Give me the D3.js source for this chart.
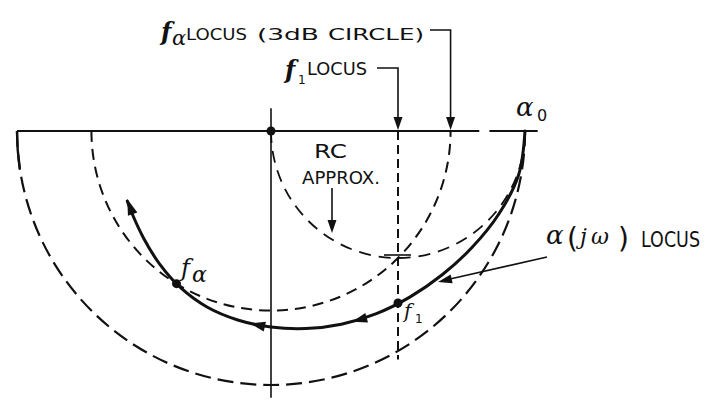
<!DOCTYPE html>
<html><head><meta charset="utf-8">
<script src="https://cdn.jsdelivr.net/npm/d3@7"></script>
<style>
html,body{margin:0;padding:0;background:#fff;}
svg{display:block;}
.lab{font-family:'DejaVu Sans','Liberation Sans',sans-serif;fill:#111;}
.it{font-family:'DejaVu Serif','Liberation Serif',serif;font-style:italic;fill:#111;}
</style></head>
<body>
<script>
// ---- data (units of alpha0) ----
const locusRe = [1.00, 0.975, 0.897, 0.792, 0.674, 0.548, 0.415, 0.277, 0.137, 0.000, -0.131, -0.252, -0.356, -0.439, -0.502, -0.550, -0.566];
const locusIm = [0.00, -0.172, -0.327, -0.458, -0.566, -0.653, -0.719, -0.761, -0.778, -0.772, -0.744, -0.693, -0.617, -0.523, -0.421, -0.318, -0.276];
const circleNames   = ["outer", "3dB", "RC"];
const circleCenters = [0, 0, 0.5];
const circleRadii   = [1, 0.707, 0.5];
const f1Re = 0.5;
const pointNames = ["origin", "fa", "f1"];
const pointRe = [0, -0.372, 0.5];
const pointIm = [0, -0.601, -0.677];
const crossRe = 0.5, crossIm = -0.5;
const arrowRe = [0.32, -0.08];

const W = 717, H = 401;
const x = d3.scaleLinear().domain([-1, 1]).range([17, 525]);
const y = d3.scaleLinear().domain([0, -1]).range([131, 385]);
const k = x(1) - x(0);

const svg = d3.select("body").append("svg").attr("width", W).attr("height", H);
const ink = "#111";

function tri(g, px, py, ang, len, hw) {
  const c = Math.cos(ang), s = Math.sin(ang);
  const bx = px - c * len, by = py - s * len;
  g.append("path")
    .attr("d", `M${px},${py}L${bx - s * hw},${by + c * hw}L${bx + s * hw},${by - c * hw}Z`)
    .attr("fill", ink);
}
function txt(cls, tx, ty, size, str, len) {
  const t = svg.append("text").attr("class", cls).attr("x", tx).attr("y", ty).style("font-size", size + "px").text(str);
  if (len) t.attr("textLength", len).attr("lengthAdjust", "spacingAndGlyphs");
  return t;
}

// horizontal axis (with small gap near alpha0)
svg.append("line").attr("x1", x(-1)).attr("x2", x(0.82)).attr("y1", y(0)).attr("y2", y(0))
  .attr("stroke", ink).attr("stroke-width", 2);
svg.append("line").attr("x1", x(0.86)).attr("x2", x(1.05)).attr("y1", y(0)).attr("y2", y(0))
  .attr("stroke", ink).attr("stroke-width", 2);
// vertical axis
svg.append("line").attr("x1", x(0)).attr("x2", x(0)).attr("y1", y(0.09)).attr("y2", y(-1.05))
  .attr("stroke", ink).attr("stroke-width", 1.6);

// circles
const dashes = {"outer": "16,7", "3dB": "11,7", "RC": "12,8"};
const widths = {"outer": 2.2, "3dB": 2, "RC": 1.8};
circleNames.forEach((n, i) => {
  const p = d3.path();
  const cx = x(circleCenters[i]), cy = y(0), r = circleRadii[i] * k;
  p.moveTo(cx - r, cy);
  p.arc(cx, cy, r, Math.PI, 0, true);
  svg.append("path").attr("d", p.toString()).attr("fill", "none")
    .attr("stroke", ink).attr("stroke-width", widths[n]).attr("stroke-dasharray", dashes[n]);
});
// solid start of the outer circle at its left corner
{
  const p = d3.path(), r = circleRadii[0] * k;
  p.moveTo(x(0) - r, y(0));
  p.arc(x(0), y(0), r, Math.PI, Math.PI - 0.15, true);
  svg.append("path").attr("d", p.toString()).attr("fill", "none").attr("stroke", ink).attr("stroke-width", 2.4);
}

// f1 locus line
svg.append("line").attr("x1", x(f1Re)).attr("x2", x(f1Re)).attr("y1", y(0)).attr("y2", y(-0.9))
  .attr("stroke", ink).attr("stroke-width", 2).attr("stroke-dasharray", "9,5");

// cross
svg.append("line").attr("x1", x(crossRe) - 14).attr("x2", x(crossRe) + 13)
  .attr("y1", y(crossIm) - 3).attr("y2", y(crossIm) - 3).attr("stroke", ink).attr("stroke-width", 1.6);

// locus
const pts = locusRe.map((r, i) => [x(r), y(locusIm[i])]);
const line = d3.line().curve(d3.curveCatmullRom.alpha(0.5));
const locus = svg.append("path").attr("d", line(pts)).attr("fill", "none")
  .attr("stroke", ink).attr("stroke-width", 3).attr("stroke-linecap", "round");
const node = locus.node();
const L = node.getTotalLength();
{
  const a = node.getPointAtLength(L), b = node.getPointAtLength(L - 3);
  tri(svg, a.x, a.y - 2, Math.atan2(a.y - b.y, a.x - b.x), 16, 5);
}
arrowRe.forEach(re => {
  const tx = x(re);
  let l = 0;
  for (let s = 0; s < L; s += 0.5) { const p = node.getPointAtLength(s); if (p.y > y(-0.6) && p.x <= tx) { l = s; break; } }
  const a = node.getPointAtLength(l), b = node.getPointAtLength(l - 2);
  tri(svg, a.x, a.y, Math.atan2(a.y - b.y, a.x - b.x), 15, 5);
});

// dots
pointNames.forEach((n, i) => {
  svg.append("circle").attr("cx", x(pointRe[i])).attr("cy", y(pointIm[i])).attr("r", 4.5).attr("fill", ink);
});

// top label 1: fα LOCUS (3dB CIRCLE)
txt("it", 161, 40, 24, "f").style("font-weight", "bold");
txt("it", 172, 45, 21, "α");
txt("lab", 186, 40, 16, "LOCUS", 61);
txt("lab", 257, 40, 16, "(3dB", 62);
txt("lab", 328, 40, 16, "CIRCLE)", 96);
svg.append("path").attr("d", `M430,30H${x(0.707)}V${y(0) - 12}`).attr("fill", "none").attr("stroke", ink).attr("stroke-width", 1.6);
tri(svg, x(0.707), y(0) - 1, Math.PI / 2, 13, 4.5);

// top label 2: f1 LOCUS
txt("it", 285, 78, 24, "f").style("font-weight", "bold");
txt("lab", 298, 84, 12, "1");
txt("lab", 307, 75, 17, "LOCUS", 60);
svg.append("path").attr("d", `M377,68H${x(f1Re)}V${y(0) - 12}`).attr("fill", "none").attr("stroke", ink).attr("stroke-width", 1.6);
tri(svg, x(f1Re), y(0) - 1, Math.PI / 2, 13, 4.5);

// alpha0
txt("it", 516, 116, 26, "α");
txt("lab", 537, 121, 16, "0");

// RC APPROX.
txt("lab", 314, 158, 20, "RC", 33);
txt("lab", 302, 184, 18, "APPROX.", 78);
svg.append("line").attr("x1", 332).attr("x2", 332).attr("y1", 188).attr("y2", 222).attr("stroke", ink).attr("stroke-width", 1.6);
tri(svg, 332, 233, Math.PI / 2, 13, 4.5);

// fα label
txt("it", 181, 276, 24, "f");
txt("it", 192, 282, 22, "α");

// f1 label
txt("it", 404, 318, 20, "f");
txt("lab", 415, 323, 12, "1");

// α(jω) LOCUS label
txt("it", 546, 244, 26, "α");
txt("lab", 567, 248, 28, "(");
txt("it", 580, 244, 22, "j");
txt("it", 591, 244, 22, "ω");
txt("lab", 618, 248, 28, ")");
txt("lab", 641, 247, 21, "LOCUS", 59);
svg.append("line").attr("x1", 547).attr("x2", 450).attr("y1", 257).attr("y2", 279).attr("stroke", ink).attr("stroke-width", 1.6);
tri(svg, 438, 282, Math.atan2(282 - 257, 438 - 547), 14, 4.5);
</script>
</body></html>
